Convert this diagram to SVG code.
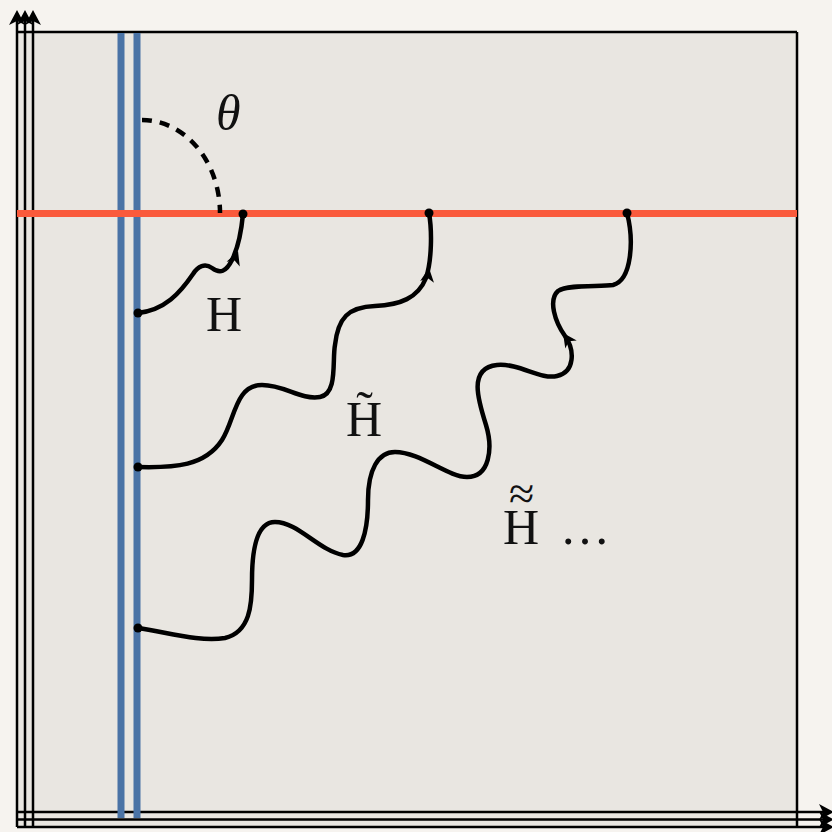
<svg xmlns="http://www.w3.org/2000/svg" width="832" height="832" viewBox="0 0 832 832">
<defs>
<style>
.frame{fill:none;stroke:#000;stroke-width:2.5}
.wave{fill:none;stroke:#000;stroke-width:4.5;stroke-linecap:round}
.lbl{font-family:"Liberation Serif","DejaVu Serif",serif;font-size:50px;fill:#111}
.blue{stroke:#4a73a6;stroke-width:7}
</style>
<path id="ah" d="M0,0 L-15,-8 L-11,0 L-15,8 Z" fill="#000"/>
<path id="wh" d="M0,0 L-14,-7 L-10,0 L-14,7 Z" fill="#000"/>
</defs>
<rect width="832" height="832" fill="#f6f3ef"/>
<rect x="17" y="32" width="780" height="795" fill="#e9e6e1"/>
<g id="axes">
<line class="frame" x1="17" y1="32" x2="797" y2="32"/>
<line class="frame" x1="797" y1="32" x2="797" y2="827"/>
<line class="frame" x1="17" y1="827" x2="17" y2="16"/>
<line class="frame" x1="25" y1="827" x2="25" y2="16"/>
<line class="frame" x1="33" y1="827" x2="33" y2="16"/>
<line class="frame" x1="17" y1="812" x2="824" y2="812"/>
<line class="frame" x1="17" y1="819.5" x2="824" y2="819.5"/>
<line class="frame" x1="17" y1="827" x2="824" y2="827"/>
<use href="#ah" transform="translate(17,10) rotate(-90)"/>
<use href="#ah" transform="translate(25,10) rotate(-90)"/>
<use href="#ah" transform="translate(33,10) rotate(-90)"/>
<use href="#ah" transform="translate(834,812)"/>
<use href="#ah" transform="translate(834,819.5)"/>
<use href="#ah" transform="translate(834,827)"/>
</g>
<g id="wall">
<line class="blue" x1="121" y1="33" x2="121" y2="818"/>
<line class="blue" x1="137" y1="33" x2="137" y2="818"/>
</g>
<g id="horizon">
<line x1="17" y1="213.5" x2="797" y2="213.5" stroke="#fa5a3c" stroke-width="7"/>
</g>
<g id="angle">
<path d="M142,120 A78,93 0 0 1 220,213" fill="none" stroke="#000" stroke-width="4.5" stroke-dasharray="10,8"/>
<text class="lbl" x="216" y="130" font-style="italic" font-size="46">θ</text>
</g>
<g id="connectors">
<path class="wave" d="M138,313 C165,310 180,293 193,274 C198,266 205,263 212,268 C220,274 226,272 232,260 C238,248 241,235 243,214"/>
<path class="wave" d="M138,467 C175,468 205,466 222,440 C235,420 235,385 262,385 C285,385 300,400 320,397 C338,394 332,360 335,345 C338,318 348,307 375,306 C400,305 418,298 426,278 C432,260 432,230 429,213"/>
<path class="wave" d="M138,628 C170,633 200,642 225,638 C250,632 252,605 252,580 C252,545 258,522 275,522 C298,522 318,550 343,555 C362,558 368,530 368,500 C368,470 378,452 395,452 C420,452 448,477 467,477 C490,477 493,448 486,425 C478,400 468,368 497,365 C520,363 540,380 557,376 C575,372 575,350 565,336 C555,322 548,300 558,291 C568,284 600,287 613,285 C632,280 634,240 627,213"/>
<use href="#wh" transform="translate(238,251) rotate(-70)"/>
<use href="#wh" transform="translate(429,268) rotate(-82)"/>
<use href="#wh" transform="translate(563,333) rotate(-125)"/>
<circle cx="138" cy="313" r="4.5"/>
<circle cx="243" cy="214" r="4.5"/>
<circle cx="138" cy="467" r="4.5"/>
<circle cx="429" cy="213" r="4.5"/>
<circle cx="138" cy="628" r="4.5"/>
<circle cx="627" cy="213" r="4.5"/>
</g>
<g id="labels">
<text class="lbl" x="206" y="331">H</text>
<text class="lbl" x="346" y="436">H&#x303;</text>
<text class="lbl"><tspan x="503" y="544">H</tspan><tspan x="509" y="509" font-size="46">≈</tspan><tspan x="560" y="544">…</tspan></text>
</g>
</svg>
